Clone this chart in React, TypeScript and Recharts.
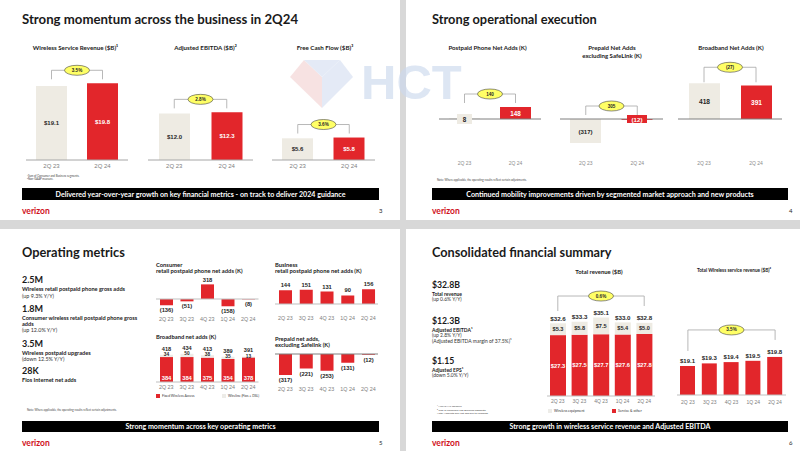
import React from 'react';
import { BarChart, Bar, XAxis, YAxis, ReferenceLine, LabelList, Cell } from 'recharts';

// ---------- data ----------
const s1Cats = ['2Q 23', '2Q 24'];
const wsrValues = [19.1, 19.8];
const ebitdaValues = [12.0, 12.3];
const fcfValues = [5.6, 5.8];
const s1Growth = ['3.5%', '2.8%', '3.6%'];

const postpaidValues = [8, 148];
const prepaidValues = [-317, -12];
const broadbandValues = [418, 391];
const s2Change = ['140', '305', '(27)'];

const qCats = ['2Q 23', '3Q 23', '4Q 23', '1Q 24', '2Q 24'];
const consumerNetAdds = [-136, -51, 318, -158, -8];
const businessNetAdds = [144, 151, 131, 90, 156];
const fwaNetAdds = [384, 384, 375, 354, 378];
const wirelineNetAdds = [34, 50, 38, 35, 13];
const broadbandTotals = [418, 434, 413, 389, 391];
const prepaidNetAdds = [-317, -221, -253, -131, -12];

const serviceOther = [27.3, 27.5, 27.7, 27.6, 27.8];
const wirelessEquipment = [5.3, 5.8, 7.5, 5.4, 5.0];
const totalRevenue = [32.6, 33.3, 35.1, 33.0, 32.8];
const wirelessService = [19.1, 19.3, 19.4, 19.5, 19.8];
const s4Growth = ['0.6%', '3.5%'];

// ---------- style ----------
const RED = '#e2262b';
const BEIGE = '#eeebe3';
const LIGHT = '#edece8';
const DARK = '#262626';
const SANS = 'Lato, "Noto Sans", sans-serif';
const NUM = '"Liberation Sans", Arial, sans-serif';

const fmtMoney = (v: number) => `$${v.toFixed(1)}`;
const fmtK = (v: number) => (v < 0 ? `(${Math.abs(v)})` : `${v}`);

type Mode = 'center' | 'above' | 'below' | 'auto' | 'chip' | 'insideBottom';
type LabelSpec = {
  dataKey: string;
  mode: Mode | Mode[];
  fmt: (v: number) => string;
  color: string | string[];
  size: number;
  gap?: number;
  chip?: (string | null)[];
  chipW?: number;
  chipH?: number;
};
type Series = { key: string; fill: string | string[]; stackId?: string; labels?: LabelSpec[] };
type Bracket = { from: number; to: number; abovePx: number; legs: [number, number]; text: string };

function pick<T>(v: T | T[], i: number): T {
  return Array.isArray(v) ? v[i] : v;
}

function makeLabel(spec: LabelSpec) {
  return (props: any) => {
    const vb = props.viewBox || props;
    const x = Number(vb.x);
    const y = Number(vb.y);
    const w = Number(vb.width);
    const h = Number(vb.height);
    const idx = props.index ?? 0;
    const top = Math.min(y, y + h);
    const bot = Math.max(y, y + h);
    const val = Number(props.value);
    const mode = pick(spec.mode, idx);
    const gap = spec.gap ?? 4.5;
    const cx = x + w / 2;
    let cy = (top + bot) / 2;
    if (mode === 'above' || (mode === 'auto' && val >= 0)) cy = top - gap;
    else if (mode === 'below' || (mode === 'auto' && val < 0)) cy = bot + gap;
    else if (mode === 'insideBottom') cy = bot - gap;
    else if (mode === 'chip') cy = val >= 0 ? bot : top;
    const chip = mode === 'chip' && spec.chip ? spec.chip[idx] : null;
    const cw = spec.chipW ?? 14;
    const ch = spec.chipH ?? 9;
    return (
      <g>
        {chip ? <rect x={cx - cw / 2} y={cy - ch / 2} width={cw} height={ch} fill={chip} /> : null}
        <text
          x={cx}
          y={cy}
          textAnchor="middle"
          dominantBaseline="central"
          fontSize={spec.size}
          fontWeight={700}
          fontFamily={NUM}
          fill={pick(spec.color, idx)}
        >
          {spec.fmt(val)}
        </text>
      </g>
    );
  };
}

function ellipseLabel(text: string) {
  return (props: any) => {
    const vb = props.viewBox || {};
    const cx = Number(vb.x) + Number(vb.width || 0) / 2;
    const cy = Number(vb.y) + Number(vb.height || 0) / 2;
    return (
      <g>
        <ellipse cx={cx} cy={cy} rx={12.5} ry={5} fill="#ffff66" stroke="#444" strokeWidth={0.6} />
        <text x={cx} y={cy} textAnchor="middle" dominantBaseline="central" fontSize={4.6} fontWeight={700} fontFamily={NUM} fill={DARK}>
          {text}
        </text>
      </g>
    );
  };
}

type MiniProps = {
  data: Record<string, any>[];
  series: Series[];
  x0: number;
  x1: number;
  plotTop: number;
  base: number;
  plotBottom: number;
  tickY: number;
  bottom: number;
  k: number;
  base0?: number;
  barSize: number;
  tickFont: number;
  tickColor?: string;
  axisColor?: string;
  bracket?: Bracket;
  topKey?: string;
};

function Mini(p: MiniProps) {
  const base0 = p.base0 ?? 0;
  const domain: [number, number] = [base0 - (p.plotBottom - p.base) / p.k, base0 + (p.base - p.plotTop) / p.k];
  const width = p.x1 - p.x0;
  const height = p.bottom - p.plotTop;
  const axisH = p.bottom - p.plotBottom;
  const tick = (t: any) => (
    <text
      x={t.x}
      y={t.y + (p.tickY - p.plotBottom)}
      textAnchor="middle"
      dominantBaseline="central"
      fontSize={p.tickFont}
      fontFamily={NUM}
      fill={p.tickColor ?? '#808080'}
    >
      {t.payload.value}
    </text>
  );
  const stroke = '#a6a6a6';
  let bracketEls: React.ReactNode[] = [];
  if (p.bracket) {
    const b = p.bracket;
    const topKey = p.topKey ?? p.series[0].key;
    const tops = p.data.map((d) => Math.max(base0, Number(d[topKey])));
    const level = Math.max(...tops) + b.abovePx / p.k;
    const c1 = p.data[b.from].cat;
    const c2 = p.data[b.to].cat;
    const l1 = level - b.legs[0] / p.k;
    const l2 = level - b.legs[1] / p.k;
    bracketEls = [
      <ReferenceLine key="bl1" segment={[{ x: c1, y: level }, { x: c1, y: l1 }]} stroke={stroke} strokeWidth={0.8} />,
      <ReferenceLine key="bl2" segment={[{ x: c2, y: level }, { x: c2, y: l2 }]} stroke={stroke} strokeWidth={0.8} />,
      <ReferenceLine
        key="bh"
        segment={[{ x: c1, y: level }, { x: c2, y: level }]}
        stroke={stroke}
        strokeWidth={0.8}
        label={ellipseLabel(b.text)}
      />,
    ];
  }
  return (
    <div style={{ position: 'absolute', left: p.x0, top: p.plotTop }}>
      <BarChart width={width} height={height} data={p.data} margin={{ top: 0, right: 0, bottom: 0, left: 0 }} barGap={0}>
        <XAxis
          dataKey="cat"
          axisLine={false}
          tickLine={false}
          tickSize={0}
          tickMargin={0}
          height={axisH}
          interval={0}
          tick={tick}
        />
        <YAxis hide type="number" domain={domain} allowDataOverflow />
        <ReferenceLine y={base0} stroke={p.axisColor ?? '#a6a6a6'} strokeWidth={1} ifOverflow="extendDomain" />
        {p.series.map((s) => (
          <Bar key={s.key} dataKey={s.key} stackId={s.stackId} barSize={p.barSize} isAnimationActive={false} fill={pick(s.fill, 0)}>
            {p.data.map((_, i) => (
              <Cell key={i} fill={pick(s.fill, i)} />
            ))}
            {(s.labels || []).map((l, i) => (
              <LabelList key={i} dataKey={l.dataKey} content={makeLabel(l)} />
            ))}
          </Bar>
        ))}
        {bracketEls}
      </BarChart>
    </div>
  );
}

function Txt({ x, y, s, b, c = '#1a1a1a', a = 'left', f = SANS, children }: any) {
  const tx = a === 'center' ? 'translateX(-50%)' : a === 'right' ? 'translateX(-100%)' : undefined;
  return (
    <div
      style={{
        position: 'absolute',
        left: x,
        top: y - s * 0.64,
        fontSize: s,
        lineHeight: `${s * 1.2}px`,
        fontWeight: b ? 700 : 400,
        color: c,
        fontFamily: f,
        whiteSpace: 'nowrap',
        transform: tx,
      }}
    >
      {children}
    </div>
  );
}

function Banner({ x, y, w, h, text }: any) {
  return (
    <div
      style={{
        position: 'absolute',
        left: x,
        top: y,
        width: w,
        height: h,
        background: '#000',
        color: '#fff',
        fontFamily: SANS,
        fontWeight: 700,
        fontSize: 7.1,
        display: 'flex',
        alignItems: 'center',
        justifyContent: 'center',
        whiteSpace: 'nowrap',
      }}
    >
      {text}
    </div>
  );
}

function Footer({ x, y, n }: any) {
  return (
    <>
      <Txt x={x} y={y} s={8.5} b c="#d0101b">
        verizon
      </Txt>
      <Txt x={x + 357} y={y} s={6} c={DARK}>
        {n}
      </Txt>
    </>
  );
}

const rows2 = (vals: number[]) => s1Cats.map((cat, i) => ({ cat, v: vals[i] }));
const rows5 = (vals: number[]) => qCats.map((cat, i) => ({ cat, v: vals[i] }));

export default function App() {
  const s1Label: LabelSpec = { dataKey: 'v', mode: 'center', fmt: fmtMoney, color: [DARK, '#fff'], size: 6 };
  const s1 = { plotTop: 56, base: 160, plotBottom: 160, tickY: 165.5, bottom: 172, k: 74 / 19.1, barSize: 31, tickFont: 6 };
  const s2 = { plotTop: 58, base: 119, plotBottom: 150, tickY: 163, bottom: 170, barSize: 31, tickFont: 5, tickColor: '#8c8c8c', axisColor: '#7f7f7f' };

  const bbRows = qCats.map((cat, i) => ({ cat, fwa: fwaNetAdds[i], wireline: wirelineNetAdds[i], total: broadbandTotals[i] }));
  const revRows = qCats.map((cat, i) => ({ cat, service: serviceOther[i], equip: wirelessEquipment[i], total: totalRevenue[i] }));

  return (
    <div style={{ position: 'fixed', left: 0, top: 0, width: 800, height: 451, background: '#d8d8d8', overflow: 'hidden', fontFamily: SANS }}>
      <div style={{ position: 'absolute', left: 0, top: 0, width: 400, height: 220, background: '#fff' }} />
      <div style={{ position: 'absolute', left: 406, top: 0, width: 394, height: 220, background: '#fff' }} />
      <div style={{ position: 'absolute', left: 0, top: 229, width: 400, height: 222, background: '#fff' }} />
      <div style={{ position: 'absolute', left: 406, top: 229, width: 394, height: 222, background: '#fff' }} />

      {/* ---------- Slide 1 ---------- */}
      <Txt x={22} y={20} s={13.2} b>
        Strong momentum across the business in 2Q24
      </Txt>
      <Txt x={75.5} y={48} s={6.2} b a="center">
        Wireless Service Revenue ($B)¹
      </Txt>
      <Txt x={205.5} y={48} s={6.2} b a="center">
        Adjusted EBITDA ($B)²
      </Txt>
      <Txt x={325} y={48} s={6.2} b a="center">
        Free Cash Flow ($B)³
      </Txt>
      <Mini {...s1} data={rows2(wsrValues)} x0={26} x1={128} series={[{ key: 'v', fill: [BEIGE, RED], labels: [s1Label] }]}
        bracket={{ from: 0, to: 1, abovePx: 13, legs: [9, 9], text: s1Growth[0] }} />
      <Mini {...s1} data={rows2(ebitdaValues)} x0={148} x1={253} series={[{ key: 'v', fill: [BEIGE, RED], labels: [s1Label] }]}
        bracket={{ from: 0, to: 1, abovePx: 13, legs: [9, 9], text: s1Growth[1] }} />
      <Mini {...s1} data={rows2(fcfValues)} x0={272} x1={375} series={[{ key: 'v', fill: [BEIGE, RED], labels: [s1Label] }]}
        bracket={{ from: 0, to: 1, abovePx: 13, legs: [9, 9], text: s1Growth[2] }} />
      <Txt x={27} y={176.5} s={2.8} c="#444">¹Sum of Consumer and Business segments.</Txt>
      <Txt x={27} y={179.8} s={2.8} c="#444">²Non-GAAP measure.</Txt>
      <Banner x={22} y={188} w={357} h={12} text="Delivered year-over-year growth on key financial metrics - on track to deliver 2024 guidance" />
      <Footer x={22} y={211} n="3" />

      {/* ---------- Slide 2 ---------- */}
      <Txt x={432} y={20} s={12.8} b>
        Strong operational execution
      </Txt>
      <Txt x={487.5} y={48} s={6.1} b a="center">
        Postpaid Phone Net Adds (K)
      </Txt>
      <Txt x={612} y={48} s={6.1} b a="center">
        Prepaid Net Adds
      </Txt>
      <Txt x={612} y={55.5} s={6.1} b a="center">
        excluding SafeLink (K)
      </Txt>
      <Txt x={731} y={48} s={6.1} b a="center">
        Broadband Net Adds (K)
      </Txt>
      <Mini {...s2} data={rows2(postpaidValues)} x0={438.5} x1={540.5} k={12 / 148}
        series={[{ key: 'v', fill: [BEIGE, RED], labels: [{ dataKey: 'v', mode: ['chip', 'center'], fmt: fmtK, color: [DARK, '#fff'], size: 6.3, chip: [BEIGE, null], chipW: 15, chipH: 10 }] }]}
        bracket={{ from: 0, to: 1, abovePx: 13, legs: [9, 9], text: s2Change[0] }} />
      <Mini {...s2} data={rows2(prepaidValues)} x0={560} x1={663} k={24 / 317}
        series={[{ key: 'v', fill: [BEIGE, RED], labels: [{ dataKey: 'v', mode: ['center', 'chip'], fmt: fmtK, color: [DARK, '#fff'], size: 6.1, chip: [null, RED], chipW: 20, chipH: 8 }] }]}
        bracket={{ from: 0, to: 1, abovePx: 13, legs: [9, 9], text: s2Change[1] }} />
      <Mini {...s2} data={rows2(broadbandValues)} x0={678} x1={782} k={0.0855}
        series={[{ key: 'v', fill: [BEIGE, RED], labels: [{ dataKey: 'v', mode: 'center', fmt: fmtK, color: [DARK, '#fff'], size: 6.6 }] }]}
        bracket={{ from: 0, to: 1, abovePx: 16, legs: [15, 15], text: s2Change[2] }} />
      <Txt x={437} y={181} s={2.8} c="#444">Note: Where applicable, the operating results reflect certain adjustments.</Txt>
      <Banner x={432} y={188} w={356} h={12} text="Continued mobility improvements driven by segmented market approach and new products" />
      <Footer x={432} y={211} n="4" />

      {/* ---------- Slide 3 ---------- */}
      <Txt x={22} y={253} s={12.8} b>
        Operating metrics
      </Txt>
      <Txt x={22} y={281} s={9} b>2.5M</Txt>
      <Txt x={22} y={290} s={5.6} b>Wireless retail postpaid phone gross adds</Txt>
      <Txt x={22} y={296} s={5.4} c="#333">(up 9.3% Y/Y)</Txt>
      <Txt x={22} y={310} s={9} b>1.8M</Txt>
      <Txt x={22} y={319} s={5.6} b>Consumer wireless retail postpaid phone gross</Txt>
      <Txt x={22} y={324.5} s={5.6} b>adds</Txt>
      <Txt x={22} y={330} s={5.4} c="#333">(up 12.0% Y/Y)</Txt>
      <Txt x={22} y={345} s={9} b>3.5M</Txt>
      <Txt x={22} y={354} s={5.6} b>Wireless postpaid upgrades</Txt>
      <Txt x={22} y={359.5} s={5.4} c="#333">(down 12.5% Y/Y)</Txt>
      <Txt x={22} y={372} s={9} b>28K</Txt>
      <Txt x={22} y={381} s={5.6} b>Fios Internet net adds</Txt>
      <Txt x={27} y={411} s={2.8} c="#444">Note: Where applicable, the operating results reflect certain adjustments.</Txt>

      <Txt x={156} y={265.5} s={5.8} b>Consumer</Txt>
      <Txt x={156} y={271.5} s={5.8} b>retail postpaid phone net adds (K)</Txt>
      <Txt x={275} y={266} s={5.8} b>Business</Txt>
      <Txt x={275} y={272} s={5.8} b>retail postpaid phone net adds (K)</Txt>
      <Txt x={156} y={338} s={5.8} b>Broadband net adds (K)</Txt>
      <Txt x={275} y={340} s={5.8} b>Prepaid net adds,</Txt>
      <Txt x={275} y={345.5} s={5.8} b>excluding Safelink (K)</Txt>

      <Mini data={rows5(consumerNetAdds)} x0={156} x1={258.5} plotTop={275} base={299} plotBottom={314} tickY={319} bottom={324}
        k={0.046} barSize={13} tickFont={5.4} axisColor="#bfbfbf"
        series={[{ key: 'v', fill: RED, labels: [{ dataKey: 'v', mode: 'auto', fmt: fmtK, color: DARK, size: 5.8, gap: 4.8 }] }]} />
      <Mini data={rows5(businessNetAdds)} x0={274.6} x1={378.4} plotTop={277} base={304} plotBottom={304} tickY={318} bottom={323}
        k={0.095} barSize={13} tickFont={5.4} axisColor="#bfbfbf"
        series={[{ key: 'v', fill: RED, labels: [{ dataKey: 'v', mode: 'above', fmt: fmtK, color: DARK, size: 5.8, gap: 5 }] }]} />
      <Mini data={bbRows} x0={156} x1={258.5} plotTop={342} base={382} plotBottom={382} tickY={386.5} bottom={391}
        k={0.065} barSize={13} tickFont={5.4} axisColor="#bfbfbf"
        series={[
          { key: 'fwa', stackId: 'a', fill: RED, labels: [{ dataKey: 'fwa', mode: 'insideBottom', fmt: fmtK, color: '#fff', size: 5.8, gap: 4 }] },
          {
            key: 'wireline', stackId: 'a', fill: LIGHT,
            labels: [
              { dataKey: 'wireline', mode: 'above', fmt: fmtK, color: DARK, size: 4.8, gap: 0.3 },
              { dataKey: 'total', mode: 'above', fmt: fmtK, color: DARK, size: 5.6, gap: 6.2 },
            ],
          },
        ]} />
      <div style={{ position: 'absolute', left: 156, top: 394, width: 4, height: 4, background: RED }} />
      <Txt x={162} y={396} s={3.4} c="#333">Fixed Wireless Access</Txt>
      <div style={{ position: 'absolute', left: 222, top: 394, width: 4, height: 4, background: LIGHT }} />
      <Txt x={228} y={396} s={3.4} c="#333">Wireline (Fios + DSL)</Txt>
      <Mini data={rows5(prepaidNetAdds)} x0={274.6} x1={378.4} plotTop={350} base={354} plotBottom={384} tickY={389} bottom={394}
        k={0.066} barSize={13} tickFont={5.4} axisColor="#7f7f7f"
        series={[{ key: 'v', fill: RED, labels: [{ dataKey: 'v', mode: 'below', fmt: fmtK, color: DARK, size: 5.8, gap: 5 }] }]} />

      <Banner x={22} y={421} w={357} h={11} text="Strong momentum across key operating metrics" />
      <Footer x={22} y={443} n="5" />

      {/* ---------- Slide 4 ---------- */}
      <Txt x={432} y={253} s={12.7} b>
        Consolidated financial summary
      </Txt>
      <Txt x={432} y={286} s={8.7} b>$32.8B</Txt>
      <Txt x={432} y={294} s={5} b>Total revenue</Txt>
      <Txt x={432} y={299} s={5} c="#333">(up 0.6% Y/Y)</Txt>
      <Txt x={432} y={322} s={8.7} b>$12.3B</Txt>
      <Txt x={432} y={330} s={5} b>Adjusted EBITDA¹</Txt>
      <Txt x={432} y={335.5} s={5} c="#333">(up 2.8% Y/Y)</Txt>
      <Txt x={432} y={341} s={5} c="#333">(Adjusted EBITDA margin of 37.5%)¹</Txt>
      <Txt x={432} y={362} s={8.7} b>$1.15</Txt>
      <Txt x={432} y={370} s={5} b>Adjusted EPS¹</Txt>
      <Txt x={432} y={375.5} s={5} c="#333">(down 5.0% Y/Y)</Txt>
      <Txt x={437} y={407} s={2.6} c="#444">¹ Non-GAAP measure.</Txt>
      <Txt x={437} y={410.5} s={2.6} c="#444">² Sum of Consumer and Business segments.</Txt>
      <Txt x={437} y={414} s={2.6} c="#444">Note: Amounts may not add due to rounding.</Txt>

      <Txt x={599} y={272} s={5.9} b a="center">Total revenue ($B)</Txt>
      <Txt x={734} y={271} s={4.7} b a="center">Total Wireless service revenue ($B)²</Txt>
      <Mini data={revRows} x0={547} x1={655} plotTop={289} base={396} plotBottom={396} tickY={401} bottom={406}
        k={2.23} barSize={16} tickFont={5} axisColor="#bfbfbf" topKey="total"
        series={[
          { key: 'service', stackId: 'r', fill: RED, labels: [{ dataKey: 'service', mode: 'center', fmt: fmtMoney, color: '#fff', size: 5.8 }] },
          {
            key: 'equip', stackId: 'r', fill: BEIGE,
            labels: [
              { dataKey: 'equip', mode: 'center', fmt: fmtMoney, color: DARK, size: 5.6 },
              { dataKey: 'total', mode: 'above', fmt: fmtMoney, color: DARK, size: 6.2, gap: 5 },
            ],
          },
        ]}
        bracket={{ from: 0, to: 4, abovePx: 21.7, legs: [15, 10], text: s4Growth[0] }} />
      <div style={{ position: 'absolute', left: 548, top: 409, width: 4, height: 4, background: LIGHT }} />
      <Txt x={554} y={411} s={3.5} c="#333">Wireless equipment</Txt>
      <div style={{ position: 'absolute', left: 612, top: 409, width: 4, height: 4, background: RED }} />
      <Txt x={618} y={411} s={3.5} c="#333">Service &amp; other</Txt>
      <Mini data={rows5(wirelessService)} x0={677} x1={786} plotTop={322} base={395} plotBottom={395} tickY={402} bottom={407}
        k={12.9} base0={16.85} barSize={15} tickFont={5} axisColor="#bfbfbf"
        series={[{ key: 'v', fill: RED, labels: [{ dataKey: 'v', mode: 'above', fmt: fmtMoney, color: DARK, size: 6, gap: 5 }] }]}
        bracket={{ from: 0, to: 4, abovePx: 27, legs: [21, 10], text: s4Growth[1] }} />

      <Banner x={432} y={421} w={356} h={11} text="Strong growth in wireless service revenue and Adjusted EBITDA" />
      <Footer x={432} y={443} n="6" />

      {/* ---------- watermark ---------- */}
      <svg width={800} height={451} style={{ position: 'absolute', left: 0, top: 0, pointerEvents: 'none' }}>
        <g opacity={0.3}>
          <polygon points="290,77 304,60 322,77" fill="#e7a3a3" />
          <polygon points="304,60 340,60 322,77" fill="#a9bde3" />
          <polygon points="322,77 340,60 353,77" fill="#a9bde3" />
          <polygon points="290,77 322,77 322,108" fill="#e7a3a3" />
          <polygon points="322,77 353,77 322,108" fill="#a9bde3" />
        </g>
        <text x={361} y={99} fontSize={49} fontWeight={700} fontFamily={NUM} fill="#ccd9ee" opacity={0.65}>
          HCT
        </text>
      </svg>
    </div>
  );
}
